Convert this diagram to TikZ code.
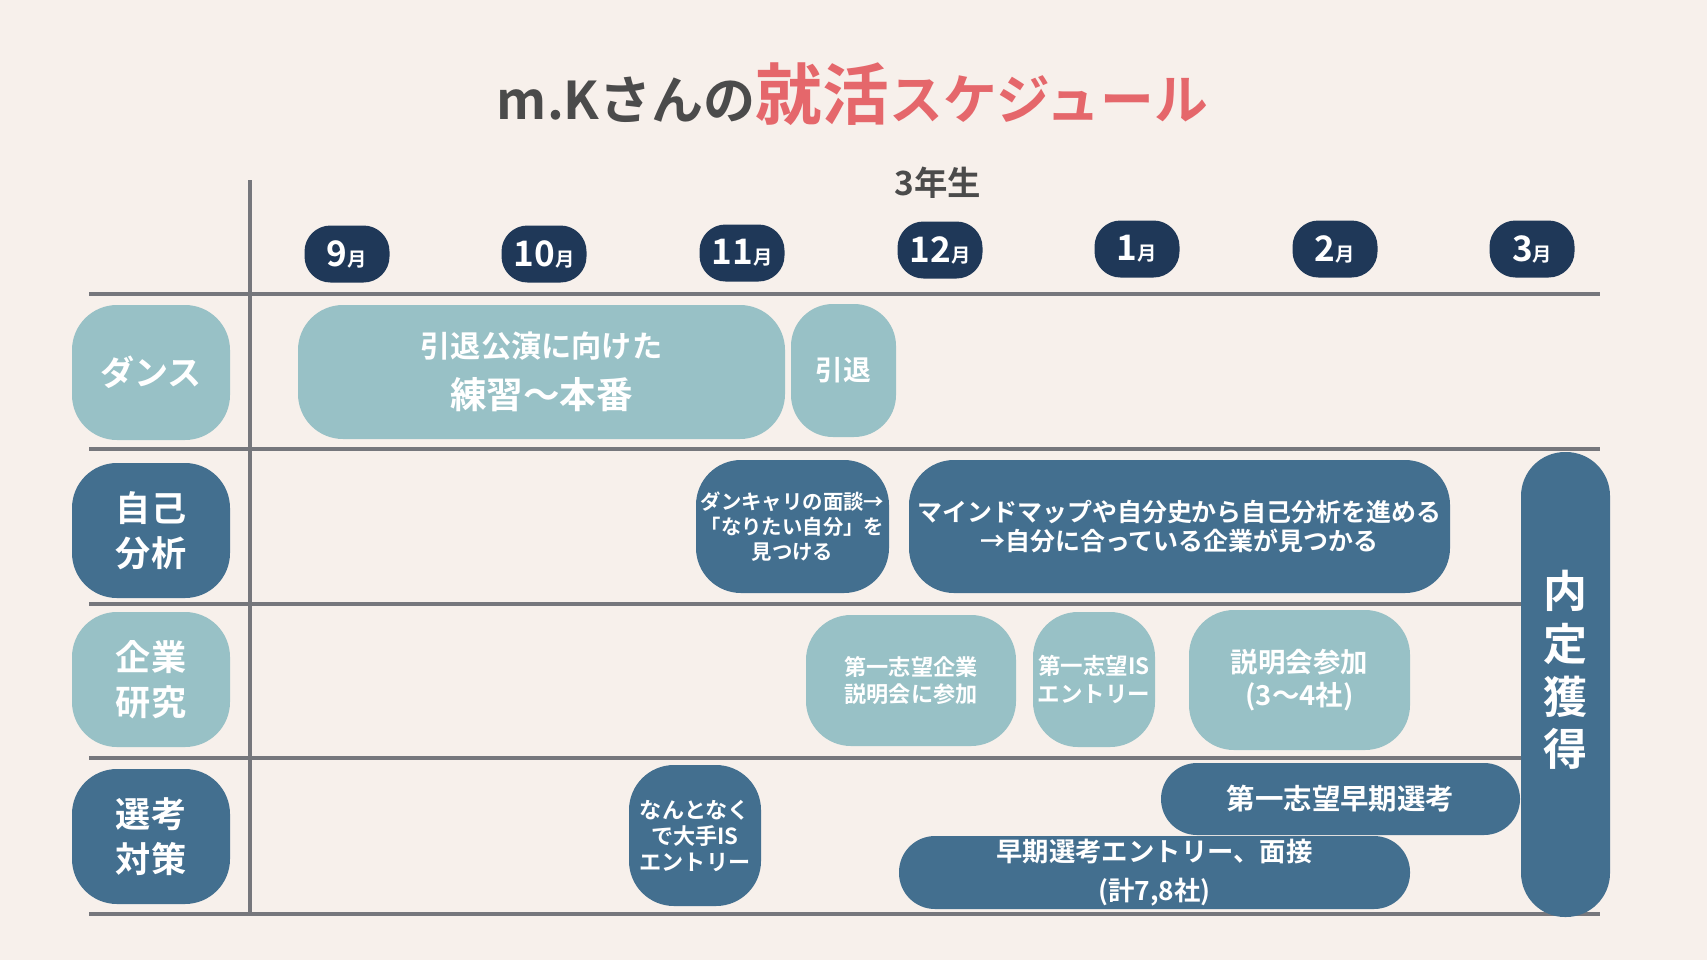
\documentclass[tikz,border=0pt]{standalone}
\usepackage{fontspec}
\setmainfont{Noto Sans CJK JP}[BoldFont={* Bold}]
\usepackage{xcolor}
\usetikzlibrary{positioning}
\definecolor{paper}{HTML}{F7F0EB}
\definecolor{navy}{HTML}{1F3858}
\definecolor{lightteal}{HTML}{98C1C6}
\definecolor{deepblue}{HTML}{436F8F}
\definecolor{rulegray}{HTML}{76777C}
\definecolor{titlered}{HTML}{E5676B}
\definecolor{titlegray}{HTML}{4B4B4B}
\newcommand{\fsz}[2]{\fontsize{#1pt}{#2pt}\selectfont}
\tikzset{
  rule/.style       = {draw=rulegray, line width=1.1pt},
  boxsize/.style 2 args = {minimum width=#1cm, minimum height=#2cm},
  fs/.style 2 args  = {font=\bfseries\fsz{#1}{#2}},
  month/.style      = {fill=navy, text=white, rounded corners=0.26cm, boxsize={0.85}{0.57}, inner sep=0pt, font=\bfseries},
  rowlight/.style   = {fill=lightteal, text=white, rounded corners=0.45cm, boxsize={1.58}{1.35}, inner sep=0pt, align=center, fs={10}{12.8}},
  rowdark/.style    = {rowlight, fill=deepblue},
  lightbar/.style   = {fill=lightteal, text=white, rounded corners=0.45cm, inner sep=0pt, align=center, font=\bfseries},
  darkbar/.style    = {lightbar, fill=deepblue},
  heading/.style    = {font=\bfseries, text=titlegray, inner sep=0pt},
}

\begin{document}
\begin{tikzpicture}[x=1cm,y=1cm]
  \fill[paper] (0,0) rectangle (17.07,9.60);
  \useasboundingbox (0,0) rectangle (17.07,9.60);

  % title
  \node[heading] (title) at (8.525,8.66) {\textcolor{titlegray}{\fsz{14.8}{14.8}m.Kさんの}\textcolor{titlered}{\fsz{19}{19}就活\fsz{15.3}{15.3}スケジュール}};
  \node[heading, fs={9.5}{9.5}] (grade) at (9.38,7.77) {3年生};

  % grid
  \draw[rule] (2.50,7.80) -- (2.50,0.46);
  \foreach \y in {6.66,5.11,3.56,2.02,0.46} {
    \draw[rule] (0.89,\y) -- (16.00,\y);
  }

  % months
  \foreach \m/\x/\y in {9/3.47/7.06, 10/5.44/7.06, 11/7.42/7.07, 12/9.40/7.10, 1/11.37/7.11, 2/13.35/7.11, 3/15.32/7.11} {
    \node[month] (m\m) at (\x,\y) {\fsz{10}{10}\m\fsz{5.5}{5.5}月};
  }

  % ---- row labels ----
  \node[rowlight, fs={9.7}{12}] (dance) at (1.51,5.875) {ダンス};
  \node[rowdark]  (selfan)  at (1.51,4.295) {自己\\分析};
  \node[rowlight] (corpres) at (1.51,2.805) {企業\\研究};
  \node[rowdark]  (selprep) at (1.51,1.235) {選考\\対策};

  % dance
  \node[lightbar, boxsize={4.87}{1.34}, fs={8.6}{14.6}] (practice) at (5.415,5.88) {引退公演に向けた\\\fsz{10.4}{14.6}練習〜本番};
  \node[lightbar, boxsize={1.05}{1.33}, rounded corners=0.42cm, fs={7.9}{9}] (retire) at (8.435,5.895) {引退};

  % self analysis
  \node[darkbar, boxsize={1.93}{1.33}, fs={5.8}{7.1}] (dancareer) at (7.925,4.335) {ダンキャリの面談→\\「なりたい自分」を\\見つける};
  \node[darkbar, boxsize={5.41}{1.33}, fs={7.1}{8.1}] (mindmap) at (11.795,4.335) {マインドマップや自分史から自己分析を進める\\→自分に合っている企業が見つかる};

  % company research
  \node[lightbar, boxsize={2.10}{1.31}, fs={6.3}{7.8}] (firstinfo) at (9.11,2.795) {第一志望企業\\説明会に参加};
  \node[lightbar, boxsize={1.22}{1.35}, rounded corners=0.45cm, fs={6.4}{7.8}] (firstis) at (10.94,2.805) {第一志望IS\\エントリー};
  \node[lightbar, boxsize={2.21}{1.40}, fs={7.8}{9.6}] (sessions) at (12.995,2.80) {説明会参加\\(3〜4社)};

  % selection
  \node[darkbar, boxsize={1.32}{1.41}, fs={6.3}{7.4}] (bigis) at (6.95,1.245) {なんとなく\\で大手IS\\エントリー};
  \node[darkbar, boxsize={3.59}{0.72}, rounded corners=0.36cm, fs={8.1}{9}] (firstsel) at (13.405,1.61) {第一志望早期選考};
  \node[darkbar, boxsize={5.11}{0.73}, rounded corners=0.36cm, fs={7.5}{11}] (earlysel) at (11.545,0.875) {早期選考エントリー、面接\\(計7,8社)};

  % offer
  \node[darkbar, boxsize={0.89}{4.65}, rounded corners=0.44cm] (offer) at (15.655,2.755) {};
  \node[heading, text=white, align=center, fs={12.5}{15}] (offertxt) at (15.655,2.90) {内\\定\\獲\\得};
\end{tikzpicture}
\end{document}
